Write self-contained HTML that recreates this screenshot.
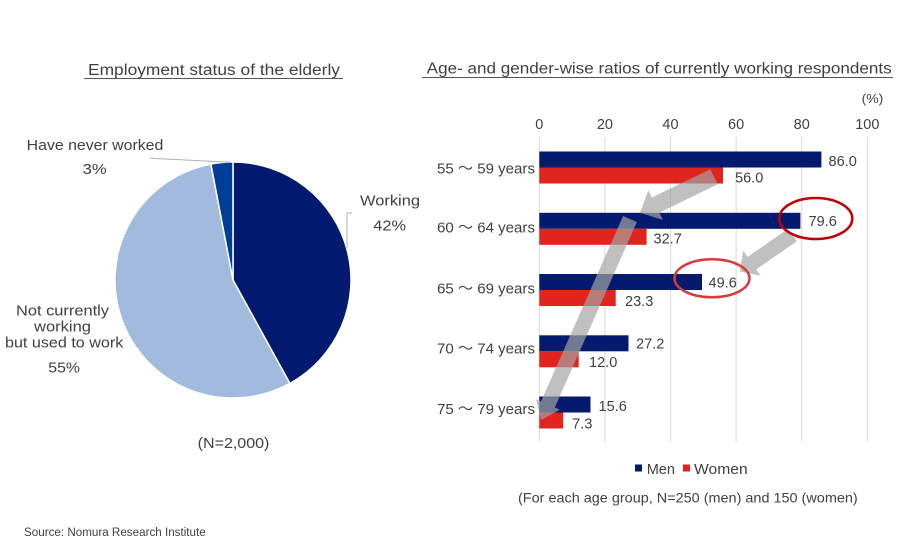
<!DOCTYPE html>
<html>
<head>
<meta charset="utf-8">
<style>
  html, body { margin: 0; padding: 0; background: #ffffff; }
  svg { display: block; }
  text { font-family: "Liberation Sans", "Noto Sans CJK JP", sans-serif; fill: #404040; }
</style>
</head>
<body>
<svg width="900" height="560" viewBox="0 0 900 560" xmlns="http://www.w3.org/2000/svg">
  <rect x="0" y="0" width="900" height="560" fill="#ffffff"/>

  <!-- ===== Left: pie chart ===== -->
  <text x="88" y="75" font-size="15.5" textLength="252" lengthAdjust="spacingAndGlyphs">Employment status of the elderly</text>
  <line x1="84" y1="78.5" x2="343" y2="78.5" stroke="#555" stroke-width="1"/>

  <!-- pie slices -->
  <path d="M233,280 L233,162 A118,118 0 0 1 289.85,383.4 Z" fill="#021970" stroke="#ffffff" stroke-width="1.5"/>
  <path d="M233,280 L289.85,383.4 A118,118 0 1 1 210.9,164.1 Z" fill="#a3badf" stroke="#ffffff" stroke-width="1.5"/>
  <path d="M233,280 L210.9,164.1 A118,118 0 0 1 233,162 Z" fill="#003e95" stroke="#ffffff" stroke-width="1.5"/>

  <!-- leader lines -->
  <polyline points="150,158.3 231,162.3" fill="none" stroke="#b0b0b0" stroke-width="1"/>
  <polyline points="352,213 347,213 347,248" fill="none" stroke="#b0b0b0" stroke-width="1"/>

  <!-- pie labels -->
  <text x="26.7" y="150" font-size="15" textLength="136.6" lengthAdjust="spacingAndGlyphs">Have never worked</text>
  <text x="82.7" y="174" font-size="15" textLength="24" lengthAdjust="spacingAndGlyphs">3%</text>
  <text x="360" y="205.5" font-size="15" textLength="60" lengthAdjust="spacingAndGlyphs">Working</text>
  <text x="373.3" y="230.5" font-size="15" textLength="32.7" lengthAdjust="spacingAndGlyphs">42%</text>
  <text x="16" y="315.5" font-size="15" textLength="93" lengthAdjust="spacingAndGlyphs">Not currently</text>
  <text x="34" y="331.5" font-size="15" textLength="57" lengthAdjust="spacingAndGlyphs">working</text>
  <text x="5" y="347.5" font-size="15" textLength="118.3" lengthAdjust="spacingAndGlyphs">but used to work</text>
  <text x="48.3" y="372.5" font-size="15" textLength="31.7" lengthAdjust="spacingAndGlyphs">55%</text>
  <text x="197.7" y="448" font-size="15" textLength="71.7" lengthAdjust="spacingAndGlyphs">(N=2,000)</text>

  <text x="24" y="536" font-size="11.5" textLength="181.7" lengthAdjust="spacingAndGlyphs">Source: Nomura Research Institute</text>

  <!-- ===== Right: bar chart ===== -->
  <text x="426.7" y="73.5" font-size="15.5" textLength="465" lengthAdjust="spacingAndGlyphs">Age- and gender-wise ratios of currently working respondents</text>
  <line x1="422" y1="77.5" x2="893" y2="77.5" stroke="#555" stroke-width="1"/>

  <text x="861.7" y="103" font-size="13" textLength="21.6" lengthAdjust="spacingAndGlyphs">(%)</text>

  <!-- tick labels -->
  <g font-size="14.5" text-anchor="middle">
    <text x="539.3" y="129">0</text>
    <text x="604.9" y="129">20</text>
    <text x="670.5" y="129">40</text>
    <text x="736.1" y="129">60</text>
    <text x="801.7" y="129">80</text>
    <text x="867.3" y="129">100</text>
  </g>

  <!-- gridlines -->
  <g stroke="#d9d9d9" stroke-width="1">
    <line x1="539.3" y1="137" x2="539.3" y2="442"/>
    <line x1="604.9" y1="137" x2="604.9" y2="442"/>
    <line x1="670.5" y1="137" x2="670.5" y2="442"/>
    <line x1="736.1" y1="137" x2="736.1" y2="442"/>
    <line x1="801.7" y1="137" x2="801.7" y2="442"/>
    <line x1="867.3" y1="137" x2="867.3" y2="442"/>
  </g>

  <!-- bars: men (navy) -->
  <g fill="#031a6e">
    <rect x="539.3" y="151.5" width="282.1" height="16"/>
    <rect x="539.3" y="212.8" width="261.1" height="16"/>
    <rect x="539.3" y="274" width="162.7" height="16"/>
    <rect x="539.3" y="335.3" width="89.2" height="16"/>
    <rect x="539.3" y="396.5" width="51.2" height="16"/>
  </g>
  <!-- bars: women (red) -->
  <g fill="#e2241e">
    <rect x="539.3" y="167.5" width="183.7" height="16"/>
    <rect x="539.3" y="228.8" width="107.3" height="16"/>
    <rect x="539.3" y="290" width="76.4" height="16"/>
    <rect x="539.3" y="351.3" width="39.4" height="16"/>
    <rect x="539.3" y="412.5" width="23.9" height="16"/>
  </g>

  <!-- category labels -->
  <g font-size="14.5" text-anchor="end">
    <text x="535" y="173.3" textLength="98" lengthAdjust="spacingAndGlyphs">55 ～ 59 years</text>
    <text x="535" y="232.3" textLength="98" lengthAdjust="spacingAndGlyphs">60 ～ 64 years</text>
    <text x="535" y="293.3" textLength="98" lengthAdjust="spacingAndGlyphs">65 ～ 69 years</text>
    <text x="535" y="353.3" textLength="98" lengthAdjust="spacingAndGlyphs">70 ～ 74 years</text>
    <text x="535" y="414" textLength="98" lengthAdjust="spacingAndGlyphs">75 ～ 79 years</text>
  </g>

  <!-- value labels -->
  <g font-size="14.5">
    <text x="828.5" y="166" textLength="28.3" lengthAdjust="spacingAndGlyphs">86.0</text>
    <text x="735" y="182.5" textLength="28.3" lengthAdjust="spacingAndGlyphs">56.0</text>
    <text x="808.5" y="226" textLength="28.3" lengthAdjust="spacingAndGlyphs">79.6</text>
    <text x="653.5" y="243.5" textLength="28.3" lengthAdjust="spacingAndGlyphs">32.7</text>
    <text x="708.5" y="287.5" textLength="28.3" lengthAdjust="spacingAndGlyphs">49.6</text>
    <text x="625" y="306" textLength="28.3" lengthAdjust="spacingAndGlyphs">23.3</text>
    <text x="636" y="348.5" textLength="28.3" lengthAdjust="spacingAndGlyphs">27.2</text>
    <text x="589" y="367" textLength="28.3" lengthAdjust="spacingAndGlyphs">12.0</text>
    <text x="598.5" y="411" textLength="28.3" lengthAdjust="spacingAndGlyphs">15.6</text>
    <text x="572" y="428.5" textLength="20.5" lengthAdjust="spacingAndGlyphs">7.3</text>
  </g>

  <!-- arrows -->
  <g fill="#a3a3a3" fill-opacity="0.69">
    <polygon points="710.3,169.2 651.9,197.5 648.4,190.3 640,212.7 662.8,219.9 659.3,212.7 717.7,184.2"/>
    <polygon points="788.2,228.8 747.6,257.0 743.1,250.6 740,271.5 760.7,275.8 756.2,269.4 796.8,241.2"/>
    <polygon points="623.1,216.0 541.0,401.5 536.0,399.2 541,420 559.8,409.8 554.8,407.5 636.9,222.0"/>
  </g>

  <!-- ellipses -->
  <ellipse cx="815.8" cy="218.5" rx="36.5" ry="20.5" fill="none" stroke="#c00000" stroke-width="2.5"/>
  <ellipse cx="712" cy="278.3" rx="37.5" ry="19" fill="none" stroke="#d43c3c" stroke-width="2.5"/>

  <!-- legend -->
  <rect x="635" y="464.5" width="7" height="7" fill="#031a6e"/>
  <text x="646.7" y="474" font-size="15" textLength="28.3" lengthAdjust="spacingAndGlyphs">Men</text>
  <rect x="683" y="464.5" width="7" height="7" fill="#e2241e"/>
  <text x="694" y="474" font-size="15" textLength="53.7" lengthAdjust="spacingAndGlyphs">Women</text>

  <text x="518" y="502.7" font-size="14" textLength="339.7" lengthAdjust="spacingAndGlyphs">(For each age group, N=250 (men) and 150 (women)</text>
</svg>
</body>
</html>
